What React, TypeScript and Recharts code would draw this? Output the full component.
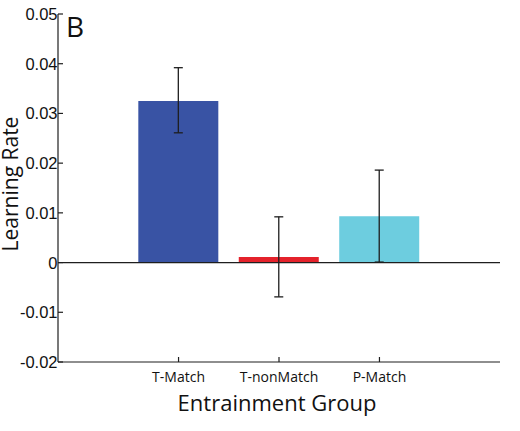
import { ComposedChart, Bar, Cell, XAxis, YAxis, ErrorBar, ReferenceLine } from "recharts";

const GROUPS = ["T-Match", "T-nonMatch", "P-Match"];
const POSITIONS = [1, 2, 3];
const MEANS = [0.0325, 0.0011, 0.0093];
const ERR_LOW = [0.0261, -0.0069, 0.0001];
const ERR_HIGH = [0.0392, 0.0092, 0.0186];
const COLORS = ["#3953a4", "#e4222b", "#6dcddf"];
const Y_TICKS = [-0.02, -0.01, 0, 0.01, 0.02, 0.03, 0.04, 0.05];

const data = GROUPS.map((name, i) => ({
  name,
  pos: POSITIONS[i],
  mean: MEANS[i],
  err: [MEANS[i] - ERR_LOW[i], ERR_HIGH[i] - MEANS[i]],
}));

const INK = "#1e1e1e";
const TICK_FONT = "'Liberation Sans', Arial, sans-serif";
const TITLE_FONT = "'Open Sans', 'Noto Sans', sans-serif";

const fmtY = (v: number) => (v === 0 ? "0" : v.toFixed(2));

function YTick({ x, y, payload }: any) {
  return (
    <g>
      <line x1={x} x2={x + 5} y1={y} y2={y} stroke={INK} strokeWidth={1.2} />
      <text x={x - 0.5} y={y + 6} textAnchor="end" fontSize={16.5} fontFamily={TICK_FONT} fill="#111">
        {fmtY(payload.value)}
      </text>
    </g>
  );
}

function XTick({ x, y, payload }: any) {
  return (
    <g>
      <line x1={x} x2={x} y1={y} y2={y - 5} stroke={INK} strokeWidth={1.2} />
      <text x={x} y={y + 19.5} textAnchor="middle" fontSize={14} fontFamily={TITLE_FONT} fill="#111">
        {GROUPS[payload.value - 1]}
      </text>
    </g>
  );
}

export default function App() {
  return (
    <div style={{ position: "absolute", left: 0, top: 0, width: 520, height: 431, background: "#fff" }}>
      <ComposedChart width={520} height={431} data={data} margin={{ top: 14, right: 20, left: 0, bottom: 0 }}>
        <XAxis
          type="number"
          dataKey="pos"
          domain={[-0.2, 4.2]}
          ticks={POSITIONS}
          height={69}
          tickSize={0}
          tickMargin={0}
          tick={<XTick />}
          axisLine={{ stroke: INK, strokeWidth: 1.2 }}
          allowDataOverflow
        />
        <YAxis
          type="number"
          domain={[-0.02, 0.05]}
          ticks={Y_TICKS}
          width={58}
          tickSize={0}
          tickMargin={0}
          tick={<YTick />}
          axisLine={{ stroke: INK, strokeWidth: 1.2 }}
          allowDataOverflow
        />
        <ReferenceLine y={0} stroke={INK} strokeWidth={1.2} />
        <Bar dataKey="mean" barSize={80} isAnimationActive={false}>
          {data.map((d, i) => (
            <Cell key={d.name} fill={COLORS[i]} />
          ))}
          <ErrorBar dataKey="err" width={4.5} stroke={INK} strokeWidth={1.3} />
        </Bar>
      </ComposedChart>
      <svg width={520} height={431} style={{ position: "absolute", left: 0, top: 0, pointerEvents: "none" }}>
        <text x={66} y={37} fontSize={28} fontFamily={TITLE_FONT} fill="#111">
          B
        </text>
        <text
          x={17.5}
          y={184}
          transform="rotate(-90 17.5 184)"
          textAnchor="middle"
          fontSize={21}
          fontFamily={TITLE_FONT}
          fill="#111"
        >
          Learning Rate
        </text>
        <text x={277} y={411} textAnchor="middle" fontSize={22} fontFamily={TITLE_FONT} fill="#111">
          Entrainment Group
        </text>
      </svg>
    </div>
  );
}
